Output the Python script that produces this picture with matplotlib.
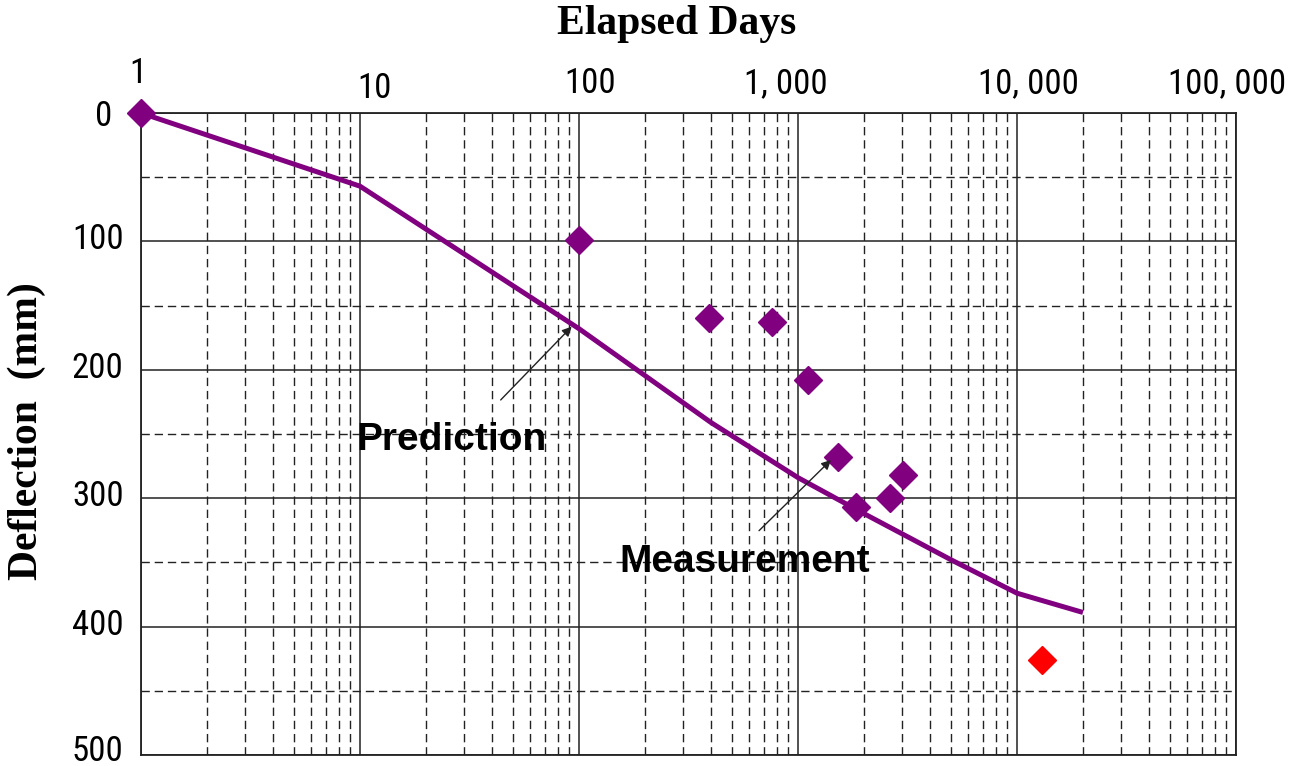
import numpy as np
import matplotlib
matplotlib.use('Agg')
import matplotlib.pyplot as plt
from matplotlib import font_manager
from matplotlib.transforms import ScaledTranslation
from matplotlib.font_manager import FontProperties

# narrow sans for the tick numbers, if one is installed
def find_narrow():
    prefs = ['Liberation Sans Narrow', 'Arial Narrow', 'Roboto Condensed',
             'DejaVu Sans Condensed', 'DejaVu Sans', 'Noto Sans', 'Open Sans', 'Roboto']
    found = {}
    for f in font_manager.fontManager.ttflist:
        narrow = ('Narrow' in f.name or 'Condensed' in f.name
                  or f.stretch in ('condensed', 'semi-condensed', 'extra-condensed', 300, 400))
        if narrow and f.style == 'normal' and f.weight in (400, 'normal', 'regular', 'book'):
            found.setdefault(f.name, f.fname)
    for p in prefs:
        if p in found:
            return found[p]
    return None

narrow_path = find_narrow()
if narrow_path:
    tick_fp = FontProperties(fname=narrow_path, size=25)
else:
    tick_fp = FontProperties(family='Liberation Sans', size=22)

# data
pred_days = [1, 10, 100, 400, 1000, 2000, 5000, 10000, 20000]
pred_defl = [0, 57, 168, 241, 284, 312, 348, 374, 389]

meas_days = [1, 100, 392, 761, 1111, 1523, 1840, 2630, 3015]
meas_defl = [0, 99, 160, 163, 208, 268, 307, 300, 282]

latest_days = [13000]
latest_defl = [426]

x_ticks = [1, 10, 100, 1000, 10000, 100000]
x_tick_labels = ['1', '10', '100', '1, 000', '10, 000', '100, 000']
y_ticks = [0, 100, 200, 300, 400, 500]

PURPLE = '#800080'

fig = plt.figure(figsize=(12.91, 7.66), dpi=100)
ax = fig.add_axes([0.1092, 0.0144, 0.8482, 0.8381])

ax.set_xscale('log')
ax.set_xlim(1, 100000)
ax.set_ylim(500, 0)

ax.plot(pred_days, pred_defl, color=PURPLE, lw=3.6, solid_capstyle='butt', zorder=3)
ax.plot(meas_days, meas_defl, ls='none', marker='D', ms=14, color=PURPLE,
        mec=PURPLE, zorder=4, clip_on=False)
ax.plot(latest_days, latest_defl, ls='none', marker='D', ms=14, color='red',
        mec='red', zorder=4)

# grid
ax.set_yticks(y_ticks)
ax.set_yticks(np.arange(50, 500, 100), minor=True)
ax.set_xticks(x_ticks)
ax.xaxis.set_minor_locator(matplotlib.ticker.LogLocator(base=10, subs=np.arange(2, 10)))
ax.xaxis.set_minor_formatter(matplotlib.ticker.NullFormatter())
ax.grid(which='major', color='#222222', lw=1.1, ls='-')
ax.grid(which='minor', color='#222222', lw=1.0, ls=(0, (6, 3.5)))
ax.set_axisbelow(True)
for s in ax.spines.values():
    s.set_linewidth(1.3)
    s.set_color('#222222')

ax.tick_params(which='both', length=0)
ax.xaxis.tick_top()
ax.set_xticklabels(x_tick_labels, fontproperties=tick_fp)
ax.tick_params(axis='x', pad=9)
ax.set_yticklabels([str(v) for v in y_ticks], fontproperties=tick_fp)
ax.tick_params(axis='y', pad=12.5)

# nudge tick labels (pixel offsets) to match the original layout
x_offsets = [(-3, 10), (15, -5), (11, 0), (-12, 0), (11, 0), (-9, 0)]
for lab, (dx, dy) in zip(ax.get_xticklabels(), x_offsets):
    lab.set_transform(lab.get_transform() + ScaledTranslation(dx / 100, dy / 100, fig.dpi_scale_trans))
y_offsets = [(-11, 0), (0, 5), (0, 5), (0, 5), (0, 5), (0, 7)]
for lab, (dx, dy) in zip(ax.get_yticklabels(), y_offsets):
    lab.set_transform(lab.get_transform() + ScaledTranslation(dx / 100, dy / 100, fig.dpi_scale_trans))

# annotations
arrow = dict(arrowstyle='-|>', color='#222222', lw=1.0, mutation_scale=14, shrinkA=0, shrinkB=0)
ax.annotate('', xy=(92.6, 166.4), xytext=(43.9, 223.5), arrowprops=arrow, zorder=5)
ax.annotate('', xy=(1415, 270.2), xytext=(664, 325.3), arrowprops=arrow, zorder=5)
ax.text(26.2, 262.5, 'Prediction', ha='center', va='baseline', fontsize=28,
        fontweight='bold', family='Liberation Sans', zorder=6)
ax.text(573, 357.5, 'Measurement', ha='center', va='baseline', fontsize=28,
        fontweight='bold', family='Liberation Sans', zorder=6)

# axis titles
fig.text(676.5 / 1291, 1 - 34 / 766, 'Elapsed Days', ha='center', va='baseline',
         fontsize=30, fontweight='bold', family='Liberation Serif')
fig.text(27 / 1291, 1 - 431 / 766, 'Deflection  (mm)', ha='center', va='center',
         rotation=90, fontsize=30, fontweight='bold', family='Liberation Serif')

fig.savefig('out.png', dpi=100, facecolor='white')
